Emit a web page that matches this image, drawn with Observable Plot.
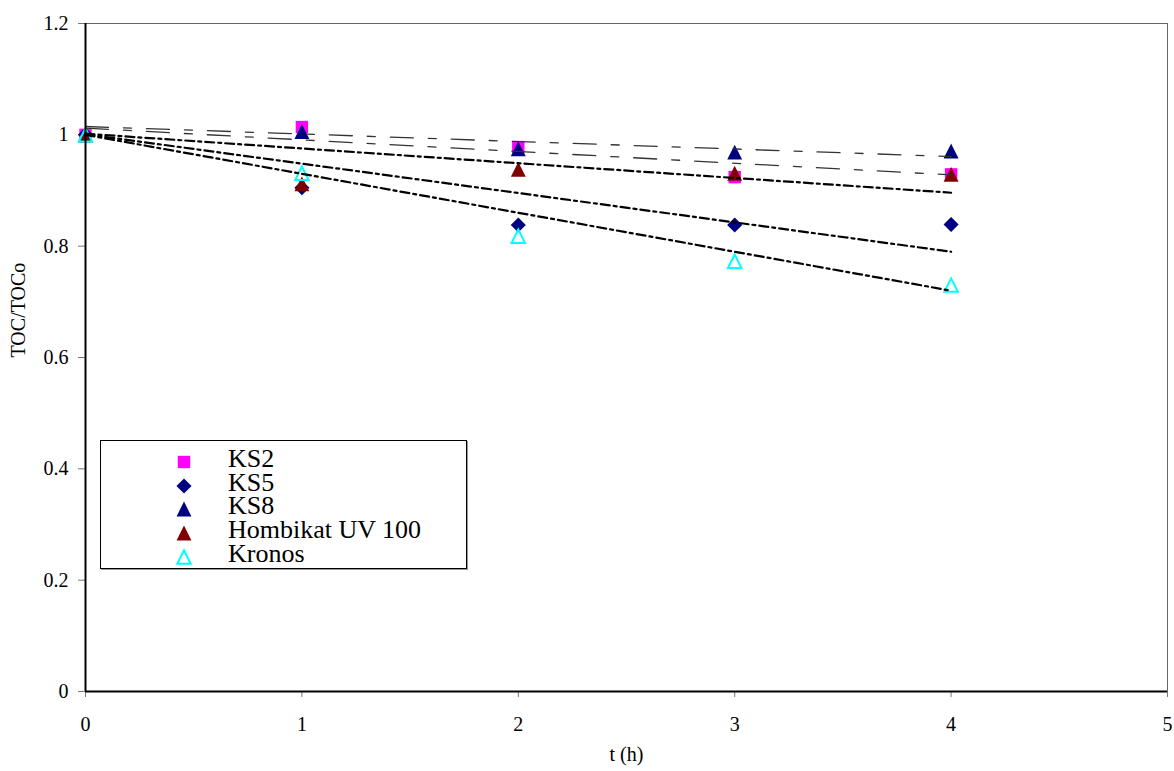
<!DOCTYPE html>
<html>
<head>
<meta charset="utf-8">
<script src="https://cdn.jsdelivr.net/npm/d3@7"></script>
<script src="https://cdn.jsdelivr.net/npm/@observablehq/plot@0.6"></script>
<style>
  html, body { margin: 0; padding: 0; background: #fff; }
  #chart { position: relative; width: 1174px; height: 771px; font-family: "Liberation Serif", "Times New Roman", serif; }
  .legend { position: absolute; left: 100px; top: 440px; width: 365px; height: 127px; border: 1px solid #000; background: #fff; box-shadow: 1px 1px 0 #999; }
  .legend .row { position: absolute; left: 0; height: 24px; width: 360px; }
  .legend svg { position: absolute; top: 0; overflow: visible; }
  .legend span { position: absolute; left: 127px; top: -3px; font-size: 26px; line-height: 24px; white-space: nowrap; color: #000; }
</style>
</head>
<body>
<div id="chart"></div>
<script>
// TOC removal over irradiation time for five TiO2 catalysts
const hours = [0, 1, 2, 3, 4];
const seriesNames = ["KS2", "KS5", "KS8", "Hombikat UV 100", "Kronos"];
const ks2 = [1.000, 1.014, 0.978, 0.924, 0.929];
const ks5 = [1.000, 0.905, 0.838, 0.838, 0.839];
const ks8 = [1.000, 1.006, 0.975, 0.969, 0.971];
const hombikat = [1.000, 0.912, 0.938, 0.931, 0.929];
const kronos = [1.000, 0.931, 0.818, 0.773, 0.730];

// Linear trend lines, value at the start and end of the fitted range
const trendHours = [0, 4];
const ks2Trend = [1.012, 0.928];
const ks5Trend = [1.001, 0.790];
const ks8Trend = [1.015, 0.961];
const hombikatTrend = [1.002, 0.896];
const kronosTrend = [1.000, 0.720];

const xTicks = [0, 1, 2, 3, 4, 5];
const yTicks = [0, 0.2, 0.4, 0.6, 0.8, 1, 1.2];
const yTickLabels = ["0", "0.2", "0.4", "0.6", "0.8", "1", "1.2"];

const seriesValues = [ks2, ks5, ks8, hombikat, kronos];
const trendValues = [ks2Trend, ks5Trend, ks8Trend, hombikatTrend, kronosTrend];

// Upward triangle as wide as it is tall, centred on its bounding box
const triangle = {
  draw(ctx, size) {
    const h = Math.sqrt(size) / 2;
    ctx.moveTo(0, -h);
    ctx.lineTo(h, h);
    ctx.lineTo(-h, h);
    ctx.closePath();
  }
};

const looks = {
  "KS2": {symbol: "square", r: 7.0, fill: "#FF00FF", stroke: "none", strokeWidth: 0},
  "KS5": {symbol: "diamond2", r: 6.8, fill: "#000080", stroke: "none", strokeWidth: 0},
  "KS8": {symbol: triangle, r: 8.4, fill: "#000080", stroke: "none", strokeWidth: 0},
  "Hombikat UV 100": {symbol: triangle, r: 8.4, fill: "#800000", stroke: "none", strokeWidth: 0},
  "Kronos": {symbol: triangle, r: 7.6, fill: "none", stroke: "#00FFFF", strokeWidth: 2}
};
const trendLooks = {
  "KS2": {stroke: "#333", strokeWidth: 1.3, strokeDasharray: "23,15,8,15"},
  "KS8": {stroke: "#333", strokeWidth: 1.3, strokeDasharray: "23,15,8,15"},
  "KS5": {stroke: "#000", strokeWidth: 2.2, strokeDasharray: "9,4,3,4"},
  "Hombikat UV 100": {stroke: "#000", strokeWidth: 2.2, strokeDasharray: "9,4,3,4"},
  "Kronos": {stroke: "#000", strokeWidth: 2.2, strokeDasharray: "9,4,3,4"}
};

const points = seriesNames.map((name, i) =>
  hours.map((t, j) => ({name, t, v: seriesValues[i][j]})));
const trends = seriesNames.map((name, i) =>
  trendHours.map((t, j) => ({name, t, v: trendValues[i][j]})));

const marks = [
  // plot-area border on the top and right
  Plot.ruleY([1.2], {stroke: "#666", strokeWidth: 1}),
  Plot.ruleX([5], {stroke: "#666", strokeWidth: 1}),
  Plot.axisX({ticks: xTicks, tickSize: 6, tickPadding: 19, stroke: "#777", fill: "#000", label: null, tickFormat: d => String(d)}),
  Plot.axisY({ticks: yTicks, tickSize: 7, tickPadding: 10, stroke: "#777", fill: "#000", label: null,
    tickFormat: d => yTickLabels[yTicks.indexOf(d)]}),
  ...seriesNames.map((name, i) => Plot.dot(points[i], {x: "t", y: "v", ...looks[name]})),
  ...seriesNames.map((name, i) => Plot.line(trends[i], {x: "t", y: "v", ...trendLooks[name]})),
  Plot.ruleX([0], {stroke: "#000", strokeWidth: 2}),
  Plot.ruleY([0], {stroke: "#000", strokeWidth: 2}),
  Plot.text(["t (h)"], {frameAnchor: "bottom", dy: 69, fontSize: 20, fill: "#000"}),
  Plot.text(["TOC/TOCo"], {frameAnchor: "left", rotate: -90, dx: -67, fontSize: 20, fill: "#000"})
];

const chart = Plot.plot({
  width: 1174,
  height: 771,
  marginLeft: 85,
  marginRight: 7,
  marginTop: 23,
  marginBottom: 80,
  x: {domain: [0, 5]},
  y: {domain: [0, 1.2]},
  style: {fontFamily: '"Liberation Serif", "Times New Roman", serif', fontSize: "20px", background: "#fff", color: "#000"},
  marks
});

const host = document.getElementById("chart");
host.appendChild(chart);

// legend box inside the plot area
const legend = document.createElement("div");
legend.className = "legend";
seriesNames.forEach((name, i) => {
  const look = looks[name];
  const row = document.createElement("div");
  row.className = "row";
  row.style.top = (8.7 + i * 23.8) + "px";
  const svg = d3.create("svg").attr("width", 30).attr("height", 24).attr("viewBox", "-15 -12 30 24").style("left", "68px");
  const symbolType = look.symbol === "square" ? d3.symbolSquare : look.symbol === "diamond2" ? d3.symbolDiamond2 : look.symbol;
  svg.append("path")
    .attr("d", d3.symbol(symbolType, Math.PI * look.r * look.r)())
    .attr("fill", look.fill)
    .attr("stroke", look.stroke)
    .attr("stroke-width", look.strokeWidth);
  row.appendChild(svg.node());
  const label = document.createElement("span");
  label.textContent = name;
  row.appendChild(label);
  legend.appendChild(row);
});
host.appendChild(legend);
</script>
</body>
</html>
